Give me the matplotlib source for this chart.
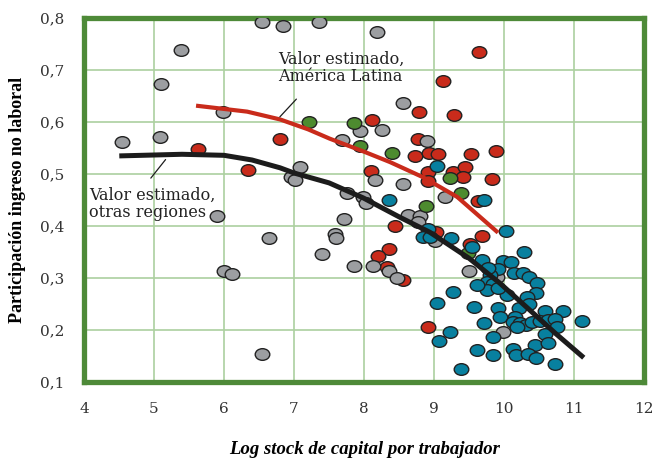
import matplotlib
matplotlib.use("Agg")
import matplotlib.pyplot as plt
from matplotlib.path import Path


# ---- data ----

gray_x = [6.54, 6.84, 7.36, 5.39, 5.10, 5.99, 4.54, 5.09, 7.09, 6.96, 7.01,
          8.19, 8.56, 7.94, 8.26, 7.69, 8.90, 8.16, 8.56, 7.76, 7.99, 8.03,
          9.16, 7.71, 7.59, 7.60, 7.40, 7.86, 8.13, 8.36, 8.47, 8.63, 8.80,
          8.77, 9.01, 9.50, 9.90, 9.99, 5.90, 6.64, 6.00, 6.11, 6.54]
gray_y = [0.792, 0.785, 0.792, 0.738, 0.673, 0.619, 0.562, 0.571, 0.513, 0.494, 0.488,
          0.773, 0.637, 0.583, 0.585, 0.565, 0.563, 0.488, 0.481, 0.463, 0.456, 0.444,
          0.456, 0.413, 0.385, 0.377, 0.346, 0.323, 0.323, 0.313, 0.300, 0.421, 0.419,
          0.408, 0.371, 0.313, 0.302, 0.196, 0.419, 0.377, 0.313, 0.308, 0.154]

red_x = [5.63, 6.34, 6.80, 9.64, 9.13, 8.79, 9.29, 8.11, 8.77, 8.73, 8.93,
         9.06, 9.53, 9.89, 8.10, 8.91, 9.27, 9.44, 9.41, 9.83, 8.91, 9.63,
         8.44, 8.36, 8.20, 8.33, 8.56, 9.03, 9.69, 9.51, 8.91]
red_y = [0.548, 0.508, 0.567, 0.735, 0.679, 0.619, 0.613, 0.604, 0.567, 0.535, 0.540,
         0.538, 0.538, 0.544, 0.506, 0.504, 0.504, 0.513, 0.494, 0.490, 0.487, 0.448,
         0.400, 0.356, 0.342, 0.321, 0.296, 0.388, 0.381, 0.365, 0.206]

green_x = [7.21, 7.86, 7.94, 8.40, 9.23, 9.39, 8.89, 9.49]
green_y = [0.600, 0.598, 0.554, 0.540, 0.492, 0.463, 0.438, 0.348]

blue_x = [9.04, 8.36, 9.71, 8.91, 8.84, 8.94, 9.24, 9.54, 10.03, 10.29, 9.69,
          9.99, 10.10, 9.91, 9.80, 9.76, 10.14, 10.27, 10.36, 10.47, 10.46, 9.84,
          9.76, 10.04, 10.33, 10.36, 9.91, 9.94, 9.71, 10.21, 10.59, 10.84, 10.16,
          10.13, 10.23, 10.31, 10.40, 10.51, 10.63, 10.73, 10.76, 11.11, 10.19, 9.84,
          10.59, 10.44, 10.63, 10.13, 10.17, 10.34, 10.46, 9.84, 10.73, 9.61, 9.27,
          9.61, 9.04, 9.57, 9.23, 9.07, 9.39, 9.77, 9.91]
blue_y = [0.515, 0.450, 0.450, 0.394, 0.379, 0.379, 0.377, 0.360, 0.390, 0.350, 0.335,
          0.333, 0.331, 0.317, 0.306, 0.292, 0.310, 0.310, 0.302, 0.290, 0.271, 0.288,
          0.277, 0.267, 0.263, 0.250, 0.242, 0.225, 0.213, 0.242, 0.237, 0.237, 0.225,
          0.215, 0.213, 0.210, 0.215, 0.217, 0.219, 0.221, 0.206, 0.217, 0.206, 0.187,
          0.192, 0.171, 0.175, 0.163, 0.152, 0.154, 0.146, 0.152, 0.135, 0.162, 0.273,
          0.287, 0.252, 0.244, 0.196, 0.179, 0.125, 0.319, 0.281]

# fitted curves
latam_x = [5.63, 6.33, 6.80, 7.20, 7.51, 8.00, 8.37, 8.84, 9.33, 9.61, 9.89]
latam_y = [0.631, 0.620, 0.605, 0.586, 0.568, 0.543, 0.523, 0.494, 0.456, 0.423, 0.390]

other_x = [4.54, 5.40, 6.00, 6.40, 6.80, 7.00, 7.50, 7.99, 8.51, 8.94, 9.50,
           9.94, 10.37, 10.73, 11.11]
other_y = [0.535, 0.538, 0.536, 0.527, 0.512, 0.502, 0.483, 0.454, 0.417, 0.388, 0.338,
           0.290, 0.238, 0.194, 0.150]

x_ticks = [4, 5, 6, 7, 8, 9, 10, 11, 12]
y_ticks = [0.1, 0.2, 0.3, 0.4, 0.5, 0.6, 0.7, 0.8]
y_tick_labels = ["0,1", "0,2", "0,3", "0,4", "0,5", "0,6", "0,7", "0,8"]


# ---- style ----

GRAY = "#9c9ea1"
RED = "#c92b1b"
GREEN = "#4d8b2f"
BLUE = "#08809f"
FRAME = "#4e8a38"
GRID = "#acd0a0"

plt.rcParams["font.family"] = ["DejaVu Serif"]

# slightly flattened circle, like the original
circ = Path.unit_circle()
ellipse = Path(circ.vertices * [1.0, 0.8], circ.codes)

fig = plt.figure(figsize=(6.56, 4.62), dpi=100)
ax = fig.add_axes([0.128, 0.173, 0.854, 0.788])

ax.set_xlim(4, 12)
ax.set_ylim(0.1, 0.8)

ax.set_xticks(x_ticks)
ax.set_yticks(y_ticks)
ax.set_yticklabels(y_tick_labels)
ax.tick_params(length=0, labelsize=11, colors="#333333")
ax.tick_params(axis="x", pad=14)
ax.tick_params(axis="y", pad=14)

ax.grid(True, color=GRID, linewidth=1.2)
ax.set_axisbelow(True)

for side in ax.spines.values():
    side.set_color(FRAME)
    side.set_linewidth(3.8)

pts = dict(marker=ellipse, s=110, edgecolors="#222222", linewidths=1.0, zorder=3)
ax.scatter(red_x, red_y, c=RED, **pts)
ax.scatter(gray_x, gray_y, c=GRAY, **pts)
ax.scatter(green_x, green_y, c=GREEN, **pts)
ax.scatter(blue_x, blue_y, c=BLUE, **pts)

ax.plot(latam_x, latam_y, color=RED, linewidth=3.0, zorder=4)
ax.plot(other_x, other_y, color="#1c1c1c", linewidth=3.6, zorder=4)

# labels with leader lines
ax.annotate("", xy=(6.77, 0.606), xytext=(7.06, 0.648),
            arrowprops=dict(arrowstyle="-", color="#1c1c1c", lw=0.9), zorder=5)
ax.text(6.77, 0.737, "Valor estimado,\nAmérica Latina", fontsize=11.5,
        color="#222222", va="top", ha="left", linespacing=1.05, zorder=5)

ax.annotate("", xy=(5.19, 0.532), xytext=(4.93, 0.488),
            arrowprops=dict(arrowstyle="-", color="#1c1c1c", lw=0.9), zorder=5)
ax.text(4.07, 0.476, "Valor estimado,\notras regiones", fontsize=11.5,
        color="#222222", va="top", ha="left", linespacing=1.05, zorder=5)

ax.set_ylabel("Participación ingreso no laboral", fontsize=13,
              fontweight="bold", family=["Liberation Serif"], labelpad=10)
ax.set_xlabel("Log stock de capital por trabajador", fontsize=13.5,
              fontweight="bold", fontstyle="italic", family=["Liberation Serif"],
              labelpad=18)

fig.savefig("out.png", dpi=100, facecolor="white")
plt.close(fig)
